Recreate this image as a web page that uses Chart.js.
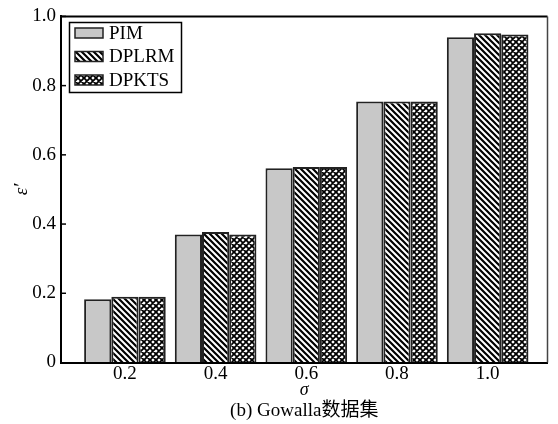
<!DOCTYPE html>
<html>
<head>
<meta charset="utf-8">
<script src="https://cdn.jsdelivr.net/npm/chart.js@4.4.1/dist/chart.umd.min.js"></script>
<style>
  html, body { margin: 0; padding: 0; background: #fff; }
</style>
</head>
<body>
<canvas id="myChart" width="558" height="424"></canvas>
<script>
'use strict';

// sigma values on the x axis and their labels
const sigmaValues = [0.2, 0.4, 0.6, 0.8, 1.0];
const sigmaLabels = ['0.2', '0.4', '0.6', '0.8', '1.0'];

// epsilon' per method
const pimValues = [0.183, 0.370, 0.561, 0.754, 0.940];
const dplrmValues = [0.190, 0.377, 0.565, 0.754, 0.951];
const dpktsValues = [0.190, 0.370, 0.565, 0.754, 0.948];

const yTickValues = [0, 0.2, 0.4, 0.6, 0.8, 1.0];
const yTickLabels = ['0', '0.2', '0.4', '0.6', '0.8', '1.0'];

const serif = '"Liberation Serif", "Noto Sans CJK SC", serif';
Chart.defaults.font.family = serif;
Chart.defaults.color = '#000';

let ctx = document.getElementById('myChart').getContext('2d');

function makeStripes() {
	const s = 6;
	const c = document.createElement('canvas');
	c.width = s; c.height = s;
	const g = c.getContext('2d');
	g.fillStyle = '#fff';
	g.fillRect(0, 0, s, s);
	g.strokeStyle = '#000';
	g.lineWidth = 2.2;
	g.beginPath();
	g.moveTo(-1, -1); g.lineTo(s + 1, s + 1);
	g.moveTo(-1, s - 1); g.lineTo(1, s + 1);
	g.moveTo(s - 1, -1); g.lineTo(s + 1, 1);
	g.stroke();
	return ctx.createPattern(c, 'repeat');
}

function makeCross() {
	const s = 6;
	const c = document.createElement('canvas');
	c.width = s; c.height = s;
	const g = c.getContext('2d');
	g.fillStyle = '#fff';
	g.fillRect(0, 0, s, s);
	g.strokeStyle = '#000';
	g.lineWidth = 1.8;
	g.beginPath();
	g.moveTo(-1, -1); g.lineTo(s + 1, s + 1);
	g.moveTo(-1, s - 1); g.lineTo(1, s + 1);
	g.moveTo(s - 1, -1); g.lineTo(s + 1, 1);
	g.moveTo(s + 1, -1); g.lineTo(-1, s + 1);
	g.moveTo(1, -1); g.lineTo(-1, 1);
	g.moveTo(s + 1, s - 1); g.lineTo(s - 1, s + 1);
	g.stroke();
	return ctx.createPattern(c, 'repeat');
}

const toPoints = vals => sigmaValues.map((x, i) => ({ x: x, y: vals[i] }));

// box round the plot, inward y ticks and the legend inside the plot
const framePlugin = {
	id: 'frame',
	afterDatasetsDraw(chart) {
		const { ctx, chartArea: a, scales: { y } } = chart;
		ctx.save();
		ctx.strokeStyle = '#000';
		ctx.lineWidth = 2;
		ctx.beginPath();
		ctx.moveTo(a.left, a.top);
		ctx.lineTo(a.right, a.top);
		ctx.stroke();
		ctx.strokeStyle = '#444';
		ctx.lineWidth = 1.5;
		ctx.beginPath();
		ctx.moveTo(a.right, a.top);
		ctx.lineTo(a.right, a.bottom);
		ctx.stroke();

		ctx.strokeStyle = '#000';
		ctx.lineWidth = 1.5;
		y.ticks.forEach(t => {
			if (t.value === 0) return;
			const py = y.getPixelForValue(t.value);
			ctx.beginPath();
			ctx.moveTo(a.left, py);
			ctx.lineTo(a.left + 5, py);
			ctx.stroke();
		});

		// legend
		ctx.lineWidth = 1.5;
		ctx.strokeStyle = '#000';
		ctx.strokeRect(69.5, 22.5, 112, 70);
		ctx.font = '19px ' + serif;
		ctx.textBaseline = 'middle';
		ctx.textAlign = 'left';
		chart.data.datasets.forEach((ds, i) => {
			const cy = 33 + i * 23.5;
			ctx.fillStyle = ds.backgroundColor;
			ctx.fillRect(75, cy - 5, 28, 10);
			ctx.strokeStyle = '#222';
			ctx.lineWidth = 1.5;
			ctx.strokeRect(75, cy - 5, 28, 10);
			ctx.fillStyle = '#000';
			ctx.fillText(ds.label, 109, cy + 1);
		});
		ctx.restore();
	}
};

let myChart = new Chart(ctx, {
	type: 'bar',
	data: {
		datasets: [{
			label: 'PIM',
			data: toPoints(pimValues),
			backgroundColor: '#c8c8c8',
			borderColor: '#222',
			borderWidth: 2
		}, {
			label: 'DPLRM',
			data: toPoints(dplrmValues),
			backgroundColor: makeStripes(),
			borderColor: '#222',
			borderWidth: 2
		}, {
			label: 'DPKTS',
			data: toPoints(dpktsValues),
			backgroundColor: makeCross(),
			borderColor: '#222',
			borderWidth: 2
		}]
	},
	options: {
		responsive: false,
		animation: false,
		devicePixelRatio: 1,
		categoryPercentage: 0.9,
		barPercentage: 1.0,
		layout: { padding: { left: 0, top: 13, right: 10.5, bottom: 0 } },
		plugins: {
			legend: { display: false },
			tooltip: { enabled: false },
			title: {
				display: true,
				position: 'bottom',
				fullSize: false,
				text: '(b) Gowalla数据集',
				color: '#000',
				font: { size: 19, weight: 'normal', lineHeight: 1 },
				padding: { top: 0, bottom: 3.5 }
			}
		},
		scales: {
			x: {
				type: 'linear',
				offset: false,
				min: 0.059,
				max: 1.132,
				afterBuildTicks: s => { s.ticks = sigmaValues.map(v => ({ value: v })); },
				afterFit: s => { s.height = 39; },
				ticks: {
					color: '#000',
					padding: 0,
					font: { size: 19 },
					maxRotation: 0,
					callback: (v, i) => sigmaLabels[i]
				},
				grid: { display: true, offset: false, drawOnChartArea: false, drawTicks: false },
				border: { display: true, color: '#000', width: 2 },
				title: {
					display: true,
					text: 'σ',
					color: '#000',
					font: { size: 18, style: 'italic', lineHeight: 1 },
					padding: { top: 0, bottom: 2.5 }
				}
			},
			y: {
				min: 0,
				max: 1,
				afterBuildTicks: s => { s.ticks = yTickValues.map(v => ({ value: v })); },
				afterFit: s => { s.width = 61; },
				ticks: {
					color: '#000',
					padding: 5,
					font: { size: 19 },
					callback: (v, i) => yTickLabels[i]
				},
				grid: { display: true, drawOnChartArea: false, drawTicks: false },
				border: { display: true, color: '#000', width: 2 },
				title: {
					display: true,
					text: 'ε′',
					color: '#000',
					font: { size: 19, style: 'italic', lineHeight: 1 },
					padding: { top: 12, bottom: 0 }
				}
			}
		}
	},
	plugins: [framePlugin]
});
</script>
</body>
</html>
